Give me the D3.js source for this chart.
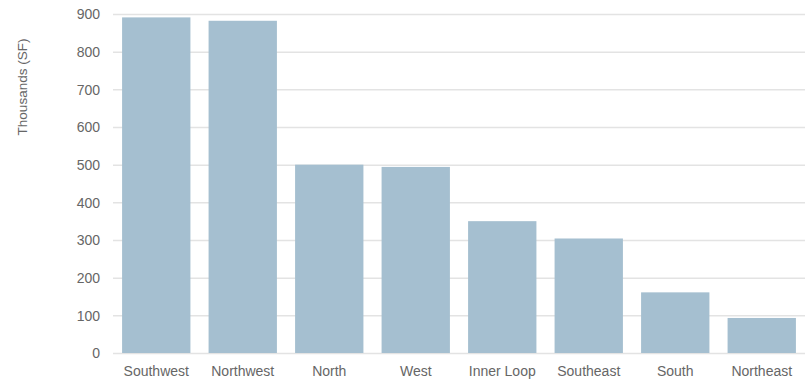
<!DOCTYPE html>
<html><head><meta charset="utf-8">
<script src="https://cdn.jsdelivr.net/npm/d3@7"></script>
<style>
body{margin:0;background:#fff;}
text{font-family:"Liberation Sans",Arial,sans-serif;}
</style></head>
<body><svg id="c" width="809" height="381"></svg>
<script>
const categories = ["Southwest","Northwest","North","West","Inner Loop","Southeast","South","Northeast"];
const values = [891, 882, 500, 494, 350, 304, 161, 93];
const yTicks = [0,100,200,300,400,500,600,700,800,900];
const yLabel = "Thousands (SF)";

const svg = d3.select("#c");
const mLeft = 113, mRight = 805, mTop = 14, mBottom = 353;
const x = d3.scaleBand().domain(categories).range([mLeft, mRight]).paddingInner(0.21).paddingOuter(0.105);
const y = d3.scaleLinear().domain([0, 900]).range([mBottom, mTop]);

const grid = svg.append("g").attr("transform", `translate(${mLeft},0)`)
  .call(d3.axisLeft(y).tickValues(yTicks).tickSize(-(mRight-mLeft)).tickPadding(13));
grid.select(".domain").remove();
grid.selectAll(".tick line").attr("stroke", "#e3e3e3").attr("stroke-width", 1.5);
grid.selectAll(".tick text").attr("fill", "#666").attr("font-size", 14).attr("dy", "0.34em");

svg.append("g").selectAll("rect").data(values).join("rect")
  .attr("x", (d,i) => x(categories[i]))
  .attr("y", d => y(d))
  .attr("width", x.bandwidth())
  .attr("height", d => y(0) - y(d))
  .attr("fill", "#a5bfd0");

const xa = svg.append("g").attr("transform", `translate(0,${mBottom})`)
  .call(d3.axisBottom(x).tickSize(0).tickPadding(13));
xa.select(".domain").remove();
xa.selectAll(".tick text").attr("fill", "#666").attr("font-size", 14);

svg.append("text").attr("transform", "translate(27,87) rotate(-90)")
  .attr("text-anchor", "middle").attr("fill", "#666").attr("font-size", 13.5).text(yLabel);
</script></body></html>
